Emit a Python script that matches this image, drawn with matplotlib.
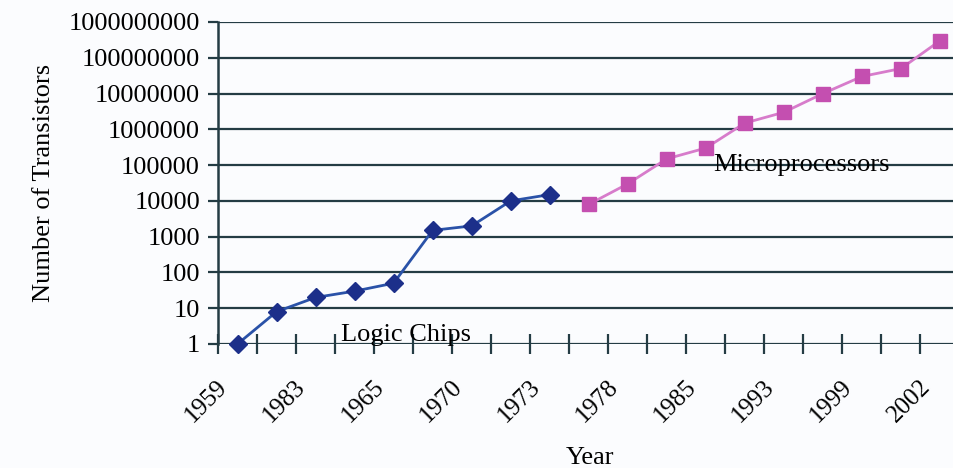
import matplotlib
matplotlib.use("Agg")
import matplotlib.pyplot as plt
from matplotlib.transforms import ScaledTranslation
import numpy as np

# Transistor counts per chip, read on a log scale
logic_counts = [1, 8, 20, 30, 50, 1500, 2000, 10000, 15000]
micro_counts = [8000, 30000, 150000, 300000, 1500000, 3000000,
                10000000, 30000000, 50000000, 300000000]
# Year labels shown under every other category
year_labels = ["1959", "1983", "1965", "1970", "1973",
               "1978", "1985", "1993", "1999", "2002"]
y_ticks = [1, 10, 100, 1000, 10000, 100000, 1000000,
           10000000, 100000000, 1000000000]

n_cat = len(logic_counts) + len(micro_counts)
logic_x = np.arange(len(logic_counts))
micro_x = np.arange(len(logic_counts), n_cat)

plt.rcParams["font.family"] = ["Liberation Serif", "DejaVu Serif"]
grid_col = "#243c44"

fig = plt.figure(figsize=(9.54, 4.68), dpi=100)
fig.patch.set_facecolor("#fbfcfe")
W, H = 954, 468
left, right, top, bottom = 218, 959.5, 22, 344
ax = fig.add_axes([left / W, (H - bottom) / H, (right - left) / W, (bottom - top) / H])
ax.set_facecolor("#fbfcfe")

ax.set_yscale("log")
ax.set_ylim(1, 1e9)
ax.set_xlim(-0.5, n_cat - 0.5)

for v in y_ticks:
    ax.axhline(v, color=grid_col, lw=1.6, zorder=1)

ax.plot(logic_x, logic_counts, color="#2a52a8", lw=2.0, marker="D",
        markersize=9, markerfacecolor="#1c2f8a", markeredgecolor="#1c2f8a", zorder=3,
        clip_on=False)
ax.plot(micro_x, micro_counts, color="#d77ccb", lw=2.0, marker="s",
        markersize=10, markerfacecolor="#c44fb0", markeredgecolor="#c44fb0", zorder=3,
        clip_on=False)

for s in ["top", "right", "bottom"]:
    ax.spines[s].set_visible(False)
ax.spines["left"].set_color(grid_col)
ax.spines["left"].set_linewidth(1.8)

ax.set_yticks(y_ticks)
ax.set_yticklabels([str(v) for v in y_ticks])
ax.yaxis.set_minor_locator(matplotlib.ticker.NullLocator())
ax.tick_params(axis="y", which="major", direction="out", length=7, width=1.6,
               color=grid_col, labelsize=19, pad=6)

# Tick marks between categories, labels at every other category centre
ax.set_xticks(np.arange(-0.5, n_cat, 1.0))
ax.set_xticklabels([])
ax.tick_params(axis="x", which="major", direction="inout", length=14, width=1.6,
               color=grid_col)
ax.set_xticks(np.arange(0, n_cat, 2), minor=True)
ax.set_xticklabels(year_labels, minor=True, rotation=45, ha="right",
                   rotation_mode="anchor", fontsize=18)
ax.tick_params(axis="x", which="minor", length=0, pad=14)
shift = ScaledTranslation(-21 / 100, -12 / 100, fig.dpi_scale_trans)
for lab in ax.get_xticklabels(minor=True):
    lab.set_transform(lab.get_transform() + shift)

ax.set_ylabel("Number of Transistors", fontsize=19, labelpad=10)
fig.text(590 / W, 1 - 458 / H, "Year", fontsize=19, ha="center", va="center")

ax.text(2.64, 1.8, "Logic Chips", fontsize=19, ha="left", va="center", zorder=4)
ax.text(12.19, 1.0e5, "Microprocessors", fontsize=19, ha="left", va="center", zorder=4)

fig.savefig("out.png", dpi=100, facecolor=fig.get_facecolor())
